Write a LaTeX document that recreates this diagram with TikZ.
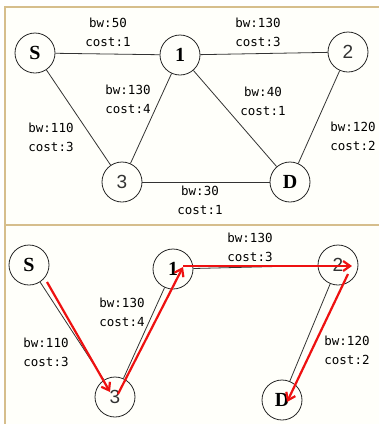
\documentclass[tikz,border=0pt]{standalone}
\usepackage{fontspec}
\usetikzlibrary{arrows.meta}
\newfontfamily\edgefont{DejaVu Sans Mono}
\newfontfamily\boldvertex{Liberation Serif}
\newfontfamily\plainvertex{Liberation Sans}
\definecolor{frametan}{HTML}{D6BE8C}
\definecolor{panelbg}{HTML}{FFFFFA}
\definecolor{pathred}{HTML}{EE1111}
\tikzset{
    vertex/.style={shape=circle, draw=black!85, line width=0.8pt, minimum size=40pt, inner sep=0pt},
    named/.style={vertex, font=\boldvertex\bfseries\fontsize{20}{20}\selectfont},
    numbered/.style={vertex, font=\plainvertex\fontsize{19}{19}\selectfont, text=black!80},
    cost/.style={font=\edgefont\fontsize{12.5}{19}\selectfont, align=center, inner sep=0pt, text=black},
    link/.style={draw=black!80, line width=0.8pt},
    hop/.style={pathred, line width=2.2pt, -{Straight Barb[length=7pt,width=10pt]}},
}
\begin{document}
\begin{tikzpicture}[x=1pt, y=-1pt]
    \useasboundingbox (0,0) rectangle (379,424);
    % panels
    \fill[panelbg] (5,7) rectangle (379,424);
    \draw[frametan, line width=1.6pt] (379,7) -- (5,7) -- (5,424);
    \draw[frametan, line width=1.6pt] (5,225) -- (379,225);

    % upper panel: the full network
    \node[name=s, named] at (35,53) {S};
    \node[name=n1, named] at (180,55) {1};
    \node[name=n2, numbered] at (348,52) {2};
    \node[name=n3, numbered] at (122,182) {3};
    \node[name=d, named] at (290,182) {D};
    \draw[link] (s) -- (n1);
    \draw[link] (n1) -- (n2);
    \draw[link] (s) -- (n3);
    \draw[link] (n1) -- (n3);
    \draw[link] (n1) -- (d);
    \draw[link] (n2) -- (d);
    \draw[link] (n3) -- (d);
    \node[name=c-s1, cost] at (108,32) {bw:50\\cost:1};
    \node[name=c-12, cost] at (258,32) {bw:130\\cost:3};
    \node[name=c-13, cost] at (128,99) {bw:130\\cost:4};
    \node[name=c-1d, cost] at (263,101) {bw:40\\cost:1};
    \node[name=c-s3, cost] at (51,137) {bw:110\\cost:3};
    \node[name=c-2d, cost] at (353,136) {bw:120\\cost:2};
    \node[name=c-3d, cost] at (200,200) {bw:30\\cost:1};

    % lower panel: the chosen path
    \node[name=ps, named] at (29,265) {S};
    \node[name=p1, named] at (173,269) {1};
    \node[name=p2, numbered] at (338,265) {2};
    \node[name=p3, numbered] at (115,397) {3};
    \node[name=pd, named] at (282,400) {D};
    \draw[link] (ps) -- (p3);
    \draw[link] (p3) -- (p1);
    \draw[link] (p1) -- (p2);
    \draw[link] (p2) -- (pd);
    \node[name=h-12, cost] at (250,247) {bw:130\\cost:3};
    \node[name=h-31, cost] at (122,312) {bw:130\\cost:4};
    \node[name=h-s3, cost] at (46,352) {bw:110\\cost:3};
    \node[name=h-2d, cost] at (347,350) {bw:120\\cost:2};
    \draw[hop] ([shift={(18,17)}]ps.center) -- ([shift={(-5,-5)}]p3.center);
    \draw[hop] ([shift={(3,-3)}]p3.center) -- ([shift={(10,-2)}]p1.center);
    \draw[hop] ([shift={(10,-3)}]p1.center) -- ([shift={(14,1)}]p2.center);
    \draw[hop] ([shift={(10,9)}]p2.center) -- ([shift={(5,2)}]pd.center);
\end{tikzpicture}
\end{document}
